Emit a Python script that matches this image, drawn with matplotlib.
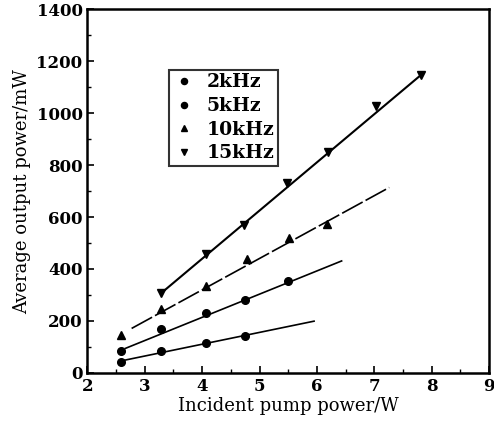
import matplotlib.pyplot as plt
import numpy as np
from matplotlib.ticker import MultipleLocator

# Data
x_2k = [2.58, 3.28, 4.06, 4.75]
y_2k = [40, 84, 113, 143]
x_5k = [2.58, 3.28, 4.06, 4.75, 5.50]
y_5k = [84, 167, 229, 280, 354]
x_10k = [2.58, 3.28, 4.07, 4.78, 5.51, 6.18]
y_10k = [145, 244, 335, 437, 521, 573]
x_15k = [3.28, 4.06, 4.73, 5.47, 6.20, 7.03, 7.81]
y_15k = [306, 457, 569, 732, 851, 1027, 1147]

# fitted lines (end points)
fit_x_2k, fit_y_2k = [2.59, 5.95], [46, 199]
fit_x_5k, fit_y_5k = [2.66, 6.43], [94, 431]
fit_x_10k, fit_y_10k = [2.77, 7.26], [171, 714]
fit_x_15k, fit_y_15k = [3.28, 7.81], [306, 1147]

plt.rcParams['font.family'] = ['DejaVu Serif']
plt.rcParams['font.size'] = 11
plt.rcParams['font.weight'] = 'bold'

fig = plt.figure(figsize=(4.94, 4.30), dpi=100)
ax = fig.add_axes([0.177, 0.133, 0.813, 0.845])

ax.plot(fit_x_2k, fit_y_2k, color='black', lw=1.2)
ax.plot(fit_x_5k, fit_y_5k, color='black', lw=1.2)
ax.plot(fit_x_10k, fit_y_10k, color='black', lw=1.2, dashes=(14, 2))
ax.plot(fit_x_15k, fit_y_15k, color='black', lw=1.5)

ax.plot(x_2k, y_2k, 'o', color='black', ms=5.5, label='2kHz')
ax.plot(x_5k, y_5k, 'o', color='black', ms=5.5, label='5kHz')
ax.plot(x_10k, y_10k, '^', color='black', ms=6, label='10kHz')
ax.plot(x_15k, y_15k, 'v', color='black', ms=6, label='15kHz')

ax.set_xlim(2, 9)
ax.set_ylim(0, 1400)
ax.xaxis.set_major_locator(MultipleLocator(1))
ax.xaxis.set_minor_locator(MultipleLocator(0.5))
ax.yaxis.set_major_locator(MultipleLocator(200))
ax.yaxis.set_minor_locator(MultipleLocator(100))
ax.tick_params(which='both', direction='in', labelsize=12)
ax.tick_params(which='major', length=5, width=1.2)
ax.tick_params(which='minor', length=3, width=1)
for s in ax.spines.values():
    s.set_linewidth(1.8)

ax.set_xlabel('Incident pump power/W', fontsize=13, labelpad=2)
ax.set_ylabel('Average output power/mW', fontsize=13, labelpad=4)

leg = ax.legend(loc='upper left', bbox_to_anchor=(0.18, 0.86), frameon=True,
                fancybox=False, edgecolor='black', fontsize=13.5, handlelength=1.2,
                handletextpad=0.6, labelspacing=0.3, borderpad=0.2, markerscale=0.8)
leg.get_frame().set_linewidth(1.5)

plt.savefig('out.png', dpi=100)
